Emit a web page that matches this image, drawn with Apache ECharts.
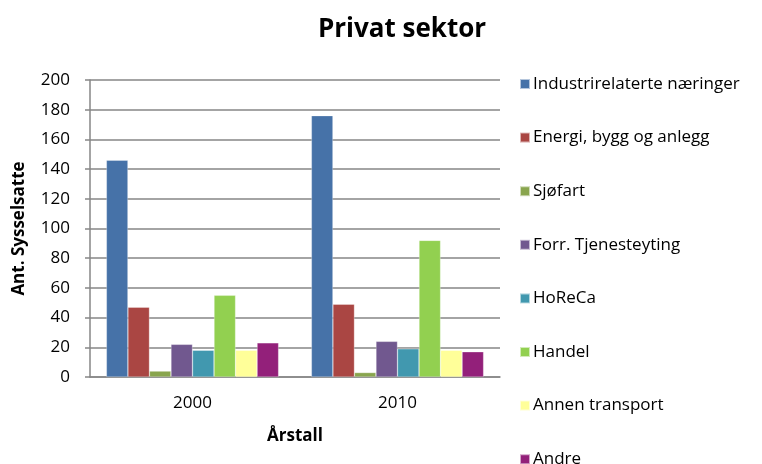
<!DOCTYPE html>
<html><head><meta charset="utf-8">
<script src="https://cdn.jsdelivr.net/npm/echarts@6/dist/echarts.min.js"></script>
<style>html,body{margin:0;padding:0;background:#fff}#c{width:762px;height:464px}</style>
</head><body><div id="c"></div>
<script>
const categories = ['2000', '2010'];
const seriesNames = ['Industrirelaterte næringer','Energi, bygg og anlegg','Sjøfart','Forr. Tjenesteyting','HoReCa','Handel','Annen transport','Andre'];
const industri = [146, 176];
const energi = [47, 49];
const sjofart = [4, 3];
const forr = [22, 24];
const horeca = [18, 19];
const handel = [55, 92];
const annen = [18, 18];
const andre = [23, 17];
const yTicks = [0, 20, 40, 60, 80, 100, 120, 140, 160, 180, 200];
const colors = ['#4672A8','#AA4643','#89A54E','#71588F','#4198AF','#92D050','#FFFF99','#93207A'];
const values = [industri, energi, sjofart, forr, horeca, handel, annen, andre];
const FONT = 'Open Sans';
const chart = echarts.init(document.getElementById('c'), null, {renderer:'canvas'});
chart.setOption({
  animation:false,
  color: colors,
  textStyle:{fontFamily:FONT},
  title:{text:'Privat sektor', left:397, top:12, textAlign:'center',
    textStyle:{fontFamily:FONT, fontSize:26, fontWeight:'bold', color:'#000'}},
  grid:{left:90, right:262, top:80, bottom:87, containLabel:false},
  legend:{orient:'vertical', left:514, top:70.5, height:500, itemWidth:10, itemHeight:10, itemGap:36.6,
    icon:'rect', data:seriesNames,
    textStyle:{fontFamily:FONT, fontSize:17, color:'#000', lineHeight:17, padding:[0,0,0,-2]}},
  xAxis:{type:'category', data:categories,
    name:'Årstall', nameLocation:'middle', nameGap:51,
    nameTextStyle:{fontFamily:FONT, fontSize:17, fontWeight:'bold', color:'#000'},
    axisLine:{lineStyle:{color:'#868686', width:1.5}},
    axisTick:{show:false},
    axisLabel:{fontFamily:FONT, fontSize:17, color:'#000', margin:18}},
  yAxis:{type:'value', min:0, max:200, interval:20,
    name:'Ant. Sysselsatte', nameLocation:'middle', nameGap:62, nameRotate:90,
    nameTextStyle:{fontFamily:FONT, fontSize:17, fontWeight:'bold', color:'#000'},
    axisLine:{show:true, lineStyle:{color:'#868686', width:1.5}},
    axisTick:{show:true, length:5, lineStyle:{color:'#868686', width:1.5}},
    splitLine:{lineStyle:{color:'#868686', width:1.5}},
    axisLabel:{fontFamily:FONT, fontSize:17, color:'#000', margin:20,
      formatter: v => yTicks.includes(v) ? String(v) : ''}},
  series: seriesNames.map((n,i)=>({
    name:n, type:'bar', data:values[i], barGap:'0%', barCategoryGap:'16%',
    itemStyle:{borderColor:'rgba(255,255,255,0.6)', borderWidth:0.5}
  }))
});
</script></body></html>
